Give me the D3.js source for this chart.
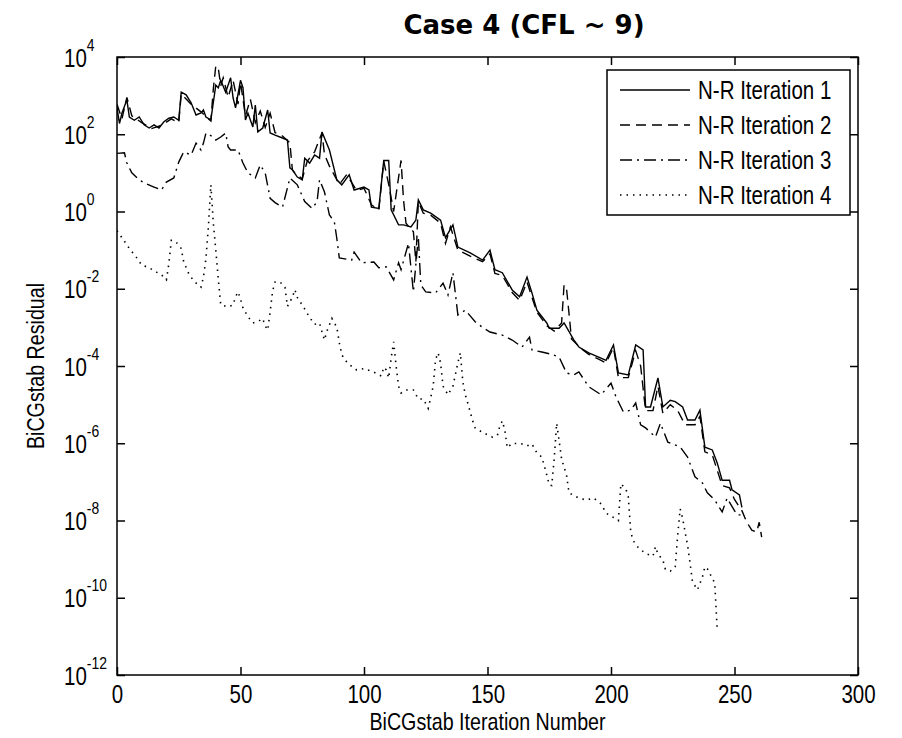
<!DOCTYPE html>
<html>
<head>
<meta charset="utf-8">
<script src="https://cdn.jsdelivr.net/npm/d3@7"></script>
<style>
body { margin:0; background:#fff; }
svg { display:block; }
.lbl { font-family: "Liberation Sans", Arial, sans-serif; font-size:25px; fill:#000; }
.ttl { font-family: "DejaVu Sans", Verdana, sans-serif; font-weight:bold; font-size:26px; fill:#000; }
</style>
</head>
<body>
<svg id="chart" width="902" height="738"></svg>
<script>
// N-R iteration 1 (solid)
var nr1Iter = [0,1,2,4,5,7,9,11,13,15,17,19,21,23,25,26,28,30,32,34,35,36,38,40,41,42,44,46,47,48,
    50,51,52,53,55,56,57,59,61,62,64,67,69,70,71,73,75,76,78,80,82,83,86,89,91,94,96,100,102,103,
    106,108,110,111,114,116,119,121,122,124,127,131,133,136,138,143,148,151,153,156,160,163,166,168,170,174,175,179,181,185,
    187,191,195,198,201,203,207,210,213,214,216,219,221,224,226,229,231,234,236,238,241,243,245,248,249,252,253];
var nr1Res = [480,190,350,780,280,230,280,175,145,175,145,210,260,280,230,1230,1050,650,315,355,425,280,235,1870,1580,2500,1230,2900,870,480,
    2500,1600,235,355,155,570,115,145,425,108,95,80,71,13.5,12,7.8,6.6,24,18,29,24,115,39,6.6,4.9,8.9,3.6,4.3,3.6,1.3,
    1.2,21,21,1.1,0.45,0.45,0.40,0.60,2.0,1.1,0.91,0.60,0.21,0.45,0.12,0.085,0.055,0.10,0.031,0.026,0.0093,0.0062,0.020,0.0078,0.0028,0.0013,9.5e-4,9.5e-4,1.3e-3,4.7e-4,
    3.1e-4,2.2e-4,1.7e-4,1.4e-4,3.5e-4,6.6e-5,5.9e-5,3.5e-4,2.6e-4,8.7e-6,8.7e-6,4.9e-5,8.7e-6,1.3e-5,1.2e-5,8.7e-6,4.0e-6,4.0e-6,7.2e-6,7.9e-7,6.7e-7,3.1e-7,1.1e-7,1.1e-7,6.2e-8,4.6e-8,2.2e-8];

// N-R iteration 2 (dashed)
var nr2Iter = [0,2,4,6,10,14,18,22,25,26,30,34,38,39,40,41,42,43,45,47,49,50,52,54,56,58,60,62,64,67,
    70,71,72,75,77,80,83,84,86,90,93,97,100,103,106,108,110,112,115,116,117,119,120,121,122,124,127,131,133,135,
    138,143,148,151,153,156,160,163,166,168,170,174,177,180,181,182,183,184,188,191,195,198,201,203,207,210,212,214,217,219,
    221,224,227,230,234,236,238,241,243,245,248,250,253,255,257,259,260,261];
var nr2Res = [600,250,900,300,200,140,170,250,200,1100,600,380,220,1500,5900,5200,1800,2900,900,2500,600,2200,300,800,200,400,150,350,110,90,
    60,12,10,7,20,35,110,30,15,5,9,3.5,4,1.5,1.1,20,5,1,21,2,0.5,0.35,0.3,0.05,1.8,0.9,0.8,0.5,0.15,0.4,
    0.1,0.07,0.05,0.08,0.025,0.022,0.008,0.005,0.015,0.006,0.0025,0.0011,8e-4,0.0013,0.0126,0.01,0.0023,5e-4,2.8e-4,2e-4,1.5e-4,1.2e-4,3e-4,5e-5,5e-5,2.5e-4,1e-4,7e-6,7e-6,3e-5,
    6e-6,1e-5,7e-6,3e-6,3e-6,5e-6,6e-7,5e-7,2e-7,8e-8,7e-8,3.5e-8,1.8e-8,9e-9,5.6e-9,5e-9,9e-9,3.7e-9];

// N-R iteration 3 (dash-dot)
var nr3Iter = [0,3,4,6,9,11,15,18,20,23,25,27,30,32,34,35,36,39,40,42,44,45,46,49,51,53,56,58,60,62,
    64,67,69,70,73,76,79,81,82,84,86,88,89,90,95,96,99,104,106,109,112,114,115,118,120,122,123,125,129,132,
    134,136,138,141,145,148,151,156,160,164,167,168,172,176,179,182,185,187,191,196,200,202,205,208,210,212,214,218,220,223,
    228,231,234,237,239,242,245,247,251,254];
var nr3Res = [32,33,18,10,6.6,5.5,4.3,3.6,5.8,7.4,19,35,29,59,39,59,107,85,71,85,107,47,39,39,18,10,7.4,16,10,2.2,
    1.7,1.3,4.1,7.4,4.9,1.8,1.2,1.8,6.6,3.2,0.81,0.54,0.2,0.063,0.055,0.089,0.047,0.049,0.035,0.037,0.017,0.047,0.031,0.15,0.0083,0.22,0.0126,0.0083,0.0078,0.014,
    0.0069,0.026,0.0021,0.0028,0.0014,0.001,7.6e-4,6.3e-4,4.7e-4,3.1e-4,5.6e-4,2.6e-4,2.3e-4,2e-4,1.7e-4,6.6e-5,5.9e-5,7e-5,2.9e-5,1.8e-5,3.6e-5,1.6e-5,6.5e-6,7.2e-6,1.1e-5,3e-6,2.5e-6,1.45e-6,3.3e-6,1.07e-6,
    8e-7,4.4e-7,1.35e-7,9.4e-8,5.2e-8,3.4e-8,1.66e-8,3.8e-8,1.4e-8,1.4e-8];

// N-R iteration 4 (dotted)
var nr4Iter = [0,3,5,8,10,13,16,18,20,21,22,24,26,27,29,31,34,35,36,37,38,39,40,41,42,45,47,48,49,50,
    51,53,55,57,59,60,61,62,63,64,66,68,69,71,72,73,76,78,80,82,83,84,85,87,89,90,91,92,94,97,
    100,104,107,108,109,110,111,112,113,114,115,117,120,122,124,126,127,128,129,130,131,132,134,136,138,139,140,141,142,143,
    144,145,148,152,154,155,156,157,158,160,164,166,168,170,172,173,174,175,176,177,178,179,180,182,183,187,190,193,196,198,
    201,203,204,206,207,208,209,211,214,217,218,219,221,222,224,226,227,228,229,230,231,232,233,235,237,238,239,241,242,243];
var nr4Res = [0.32,0.17,0.11,0.063,0.041,0.035,0.027,0.023,0.017,0.045,0.18,0.16,0.11,0.05,0.025,0.016,0.011,0.02,0.06,0.4,4.9,0.5,0.1,0.018,0.0038,0.0034,0.0038,0.0062,0.0083,0.0054,
    0.0032,0.0019,0.0013,0.0014,0.0017,0.0011,8.5e-4,0.0025,0.0087,0.015,0.015,0.011,0.0035,0.006,0.0095,0.006,0.003,0.0018,0.0012,0.0013,7.6e-4,4.7e-4,8e-4,0.0017,0.001,4e-4,2e-4,1.5e-4,1.1e-4,7.9e-5,
    8.6e-5,6.9e-5,5.5e-5,9.3e-5,7.9e-5,4.9e-5,1.6e-4,4.2e-4,1.0e-4,3e-5,2e-5,2.4e-5,2.4e-5,1.4e-5,1.4e-5,8e-6,1.5e-5,3e-5,1.5e-4,2.2e-4,1.2e-4,3e-5,1.8e-5,3e-5,1.2e-4,2.2e-4,4e-5,1.8e-5,1.1e-5,6.5e-6,
    3.8e-6,2.5e-6,1.9e-6,1.45e-6,1.6e-6,2.8e-6,3.8e-6,2.2e-6,7.6e-7,1e-6,9.6e-7,8.5e-7,9.6e-7,5.6e-7,4.4e-7,2.6e-7,1.5e-7,8.3e-8,8e-8,3.9e-7,3.3e-6,1.15e-6,3.9e-7,1.5e-7,5.2e-8,3.8e-8,3.4e-8,3.8e-8,2.7e-8,1.55e-8,
    1.2e-8,1e-8,8.9e-8,6.6e-8,4.1e-8,5e-9,3e-9,2e-9,1.4e-9,1.2e-9,2.1e-9,1.35e-9,9.5e-10,5.5e-10,4.9e-10,6.3e-10,4.2e-9,2e-8,1.15e-8,5e-9,2.3e-9,8e-10,2.6e-10,1.6e-10,3.4e-10,6.3e-10,5.6e-10,3.2e-10,2.4e-10,1.5e-11];

var seriesNames = ["N-R Iteration 1", "N-R Iteration 2", "N-R Iteration 3", "N-R Iteration 4"];
var xTicks = [0, 50, 100, 150, 200, 250, 300];
var yTickExps = [4, 2, 0, -2, -4, -6, -8, -10, -12];

var dashes = ["none", "10,6", "12,5,2,5", "1.5,5"];
var series = [
    d3.zip(nr1Iter, nr1Res),
    d3.zip(nr2Iter, nr2Res),
    d3.zip(nr3Iter, nr3Res),
    d3.zip(nr4Iter, nr4Res)
];

var L = 117, R = 858, T = 57, B = 675;
var NARROW = 0.82; // squeeze Liberation Sans to a narrow face
var svg = d3.select("#chart");

var x = d3.scaleLinear().domain([0, 300]).range([L, R]);
var y = d3.scaleLog().domain([1e-12, 1e4]).range([B, T]);

// place a narrow text at (px,py)
function narrowText(g, px, py, str, anchor, rot, size) {
    var tr = "translate(" + px + "," + py + ")" + (rot ? " rotate(" + rot + ")" : "") + " scale(" + NARROW + ",1)";
    var t = g.append("text").attr("class", "lbl").attr("transform", tr)
        .attr("text-anchor", anchor || "start").text(str);
    if (size) t.style("font-size", size + "px");
    return t;
}

svg.append("clipPath").attr("id", "plotclip")
    .append("rect").attr("x", L).attr("y", T).attr("width", R - L).attr("height", B - T);

var line = d3.line().x(function(d){ return x(d[0]); }).y(function(d){ return y(d[1]); });

var plot = svg.append("g").attr("clip-path", "url(#plotclip)");
plot.selectAll("path.series").data(series).enter().append("path")
    .attr("class", "series")
    .attr("d", line)
    .attr("fill", "none")
    .attr("stroke", "#000")
    .attr("stroke-width", function(d, i){ return i == 3 ? 1.6 : 1.4; })
    .attr("stroke-dasharray", function(d, i){ return dashes[i]; });

// axes, ticks pointing in
var yVals = yTickExps.map(function(e){ return Math.pow(10, e); });
var axB = d3.axisBottom(x).tickValues(xTicks).tickSizeInner(-8).tickSizeOuter(0).tickFormat("");
var axT = d3.axisTop(x).tickValues(xTicks).tickSizeInner(-8).tickSizeOuter(0).tickFormat("");
var axLf = d3.axisLeft(y).tickValues(yVals).tickSizeInner(-8).tickSizeOuter(0).tickFormat("");
var axRt = d3.axisRight(y).tickValues(yVals).tickSizeInner(-8).tickSizeOuter(0).tickFormat("");

var gB = svg.append("g").attr("transform", "translate(0," + B + ")").call(axB);
svg.append("g").attr("transform", "translate(0," + T + ")").call(axT);
var gL = svg.append("g").attr("transform", "translate(" + L + ",0)").call(axLf);
svg.append("g").attr("transform", "translate(" + R + ",0)").call(axRt);

svg.selectAll(".domain").remove();
svg.selectAll(".tick text").remove();
svg.selectAll(".tick line").attr("stroke", "#000").attr("stroke-width", 1.5);

// x labels
gB.selectAll(".tick").each(function(d){
    narrowText(d3.select(this), 0, 28, d, "middle");
});

// y labels as 10^n
gL.selectAll(".tick").each(function(d, i){
    var t = narrowText(d3.select(this), -53, 9, "", "start");
    t.append("tspan").text("10");
    t.append("tspan").attr("dy", -16).style("font-size", "17px").text(yTickExps[i]);
});

svg.append("rect").attr("x", L).attr("y", T).attr("width", R - L).attr("height", B - T)
    .attr("fill", "none").attr("stroke", "#000").attr("stroke-width", 1.5);

// titles
svg.append("text").attr("class", "ttl").attr("x", 524).attr("y", 34)
    .attr("text-anchor", "middle").text("Case 4 (CFL ~ 9)");
narrowText(svg, (L + R) / 2, 730, "BiCGstab Iteration Number", "middle", 0, 24);
narrowText(svg, 44, (T + B) / 2, "BiCGstab Residual", "middle", -90, 24);

// legend
var leg = svg.append("g");
leg.append("rect").attr("x", 607).attr("y", 70).attr("width", 243).attr("height", 145)
    .attr("fill", "#fff").attr("stroke", "#000").attr("stroke-width", 1.5);
var rows = leg.selectAll("g.row").data(seriesNames).enter().append("g")
    .attr("class", "row")
    .attr("transform", function(d, i){ return "translate(0," + (90 + i * 35) + ")"; });
rows.append("line").attr("x1", 620).attr("x2", 690).attr("y1", 0).attr("y2", 0)
    .attr("stroke", "#000").attr("stroke-width", function(d, i){ return i == 3 ? 1.6 : 1.4; })
    .attr("stroke-dasharray", function(d, i){ return dashes[i]; });
rows.each(function(d){
    narrowText(d3.select(this), 698, 9, d, "start");
});
</script>
</body>
</html>
